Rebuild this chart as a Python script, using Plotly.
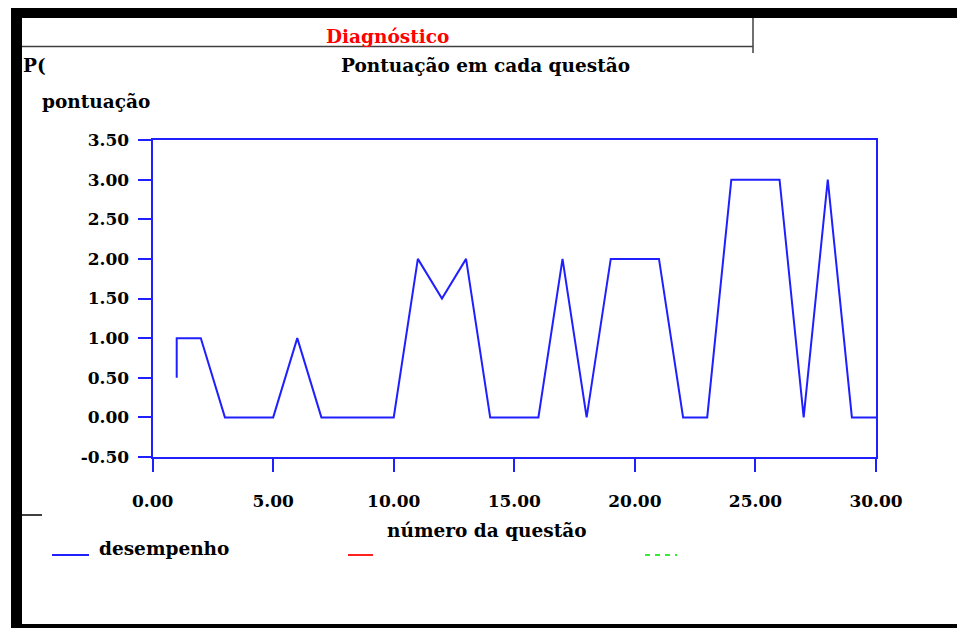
import plotly.graph_objects as go

# ---- data ----
questao = [1, 1, 2, 3, 4, 5, 6, 7, 8, 9, 10, 11, 12, 13, 14, 15, 16, 17, 18, 19, 20,
           21, 22, 23, 24, 25, 26, 27, 28, 29, 30]
pontuacao = [0.5, 1, 1, 0, 0, 0, 1, 0, 0, 0, 0, 2, 1.5, 2, 0, 0, 0, 2, 0, 2, 2,
             2, 0, 0, 3, 3, 3, 0, 3, 0, 0]
x_ticks = [0, 5, 10, 15, 20, 25, 30]
y_ticks = [-0.5, 0, 0.5, 1, 1.5, 2, 2.5, 3, 3.5]
serie_nome = "desempenho"

OFF = 8  # page body margin
W, H = 965 - OFF, 628 - OFF
BLUE = "#2020ff"
FONT = "DejaVu Serif"


def px(x):
    return (x - OFF) / W


def py(y):
    return 1 - (y - OFF) / H


fig = go.Figure()
fig.add_trace(go.Scatter(x=questao, y=pontuacao, mode="lines", name=serie_nome,
                         line=dict(color=BLUE, width=2), showlegend=False))

tickfont = dict(family=FONT, size=17, color="black", weight="bold")
fig.update_layout(
    width=W, height=H,
    margin=dict(l=0, r=0, t=0, b=0, pad=0, autoexpand=False),
    paper_bgcolor="white", plot_bgcolor="white",
    showlegend=False,
    xaxis=dict(domain=[px(152.6), px(876)], range=[0, 30], tickvals=x_ticks,
               ticktext=[f"{v:.2f}" for v in x_ticks],
               showgrid=False, zeroline=False, automargin=False,
               showline=True, linecolor=BLUE, linewidth=2, mirror=True,
               ticks="outside", ticklen=13, tickwidth=2, tickcolor=BLUE,
               tickfont=tickfont, ticklabelstandoff=15, fixedrange=True),
    yaxis=dict(domain=[py(457), py(140)], range=[-0.5, 3.5], tickvals=y_ticks,
               ticktext=[f"{v:.2f}" for v in y_ticks],
               showgrid=False, zeroline=False, automargin=False,
               showline=True, linecolor=BLUE, linewidth=2, mirror=True,
               ticks="outside", ticklen=13, tickwidth=2, tickcolor=BLUE,
               tickfont=tickfont, ticklabelstandoff=5, fixedrange=True),
)

shapes = []
# black frame
for (x0, y0, x1, y1) in [(11, 6, 22, 628), (11, 6, 965, 18), (958, 6, 965, 628), (11, 624, 965, 628)]:
    shapes.append(dict(type="rect", xref="paper", yref="paper", x0=px(x0), x1=px(x1),
                       y0=py(y1), y1=py(y0), fillcolor="black", line=dict(width=0), layer="above"))
# header lines
shapes.append(dict(type="line", xref="paper", yref="paper", x0=px(22), x1=px(753),
                   y0=py(46.5), y1=py(46.5), line=dict(color="#404040", width=1.5)))
shapes.append(dict(type="line", xref="paper", yref="paper", x0=px(753), x1=px(753),
                   y0=py(18), y1=py(53), line=dict(color="#404040", width=1.5)))
# small stub
shapes.append(dict(type="line", xref="paper", yref="paper", x0=px(22), x1=px(42),
                   y0=py(515), y1=py(515), line=dict(color="black", width=1.5)))
# legend samples
shapes.append(dict(type="line", xref="paper", yref="paper", x0=px(52), x1=px(89),
                   y0=py(555), y1=py(555), line=dict(color=BLUE, width=2)))
shapes.append(dict(type="line", xref="paper", yref="paper", x0=px(348), x1=px(373),
                   y0=py(555), y1=py(555), line=dict(color="#ff2020", width=2)))
shapes.append(dict(type="line", xref="paper", yref="paper", x0=px(645), x1=px(677),
                   y0=py(555), y1=py(555), line=dict(color="#33ee33", width=2, dash="5px,5px")))
fig.update_layout(shapes=shapes)

tf = dict(family=FONT, size=18.5, color="black", weight="bold")
ann = [
    dict(text="Diagnóstico", x=px(387), y=py(36), xanchor="center", yanchor="middle",
         font=dict(family=FONT, size=18.5, color="#ff0000", weight="bold")),
    dict(text="Pontuação em cada questão", x=px(485), y=py(66), xanchor="center", yanchor="middle", font=tf),
    dict(text="P(", x=px(21), y=py(66), xanchor="left", yanchor="middle", font=tf),
    dict(text="pontuação", x=px(40), y=py(101), xanchor="left", yanchor="middle", font=tf),
    dict(text="número da questão", x=px(487), y=py(530), xanchor="center", yanchor="middle", font=tf),
    dict(text=serie_nome, x=px(97), y=py(548), xanchor="left", yanchor="middle", font=tf),
]
for a in ann:
    a.update(xref="paper", yref="paper", showarrow=False)
fig.update_layout(annotations=ann)

fig.write_html("out.html", config={"displayModeBar": False})
